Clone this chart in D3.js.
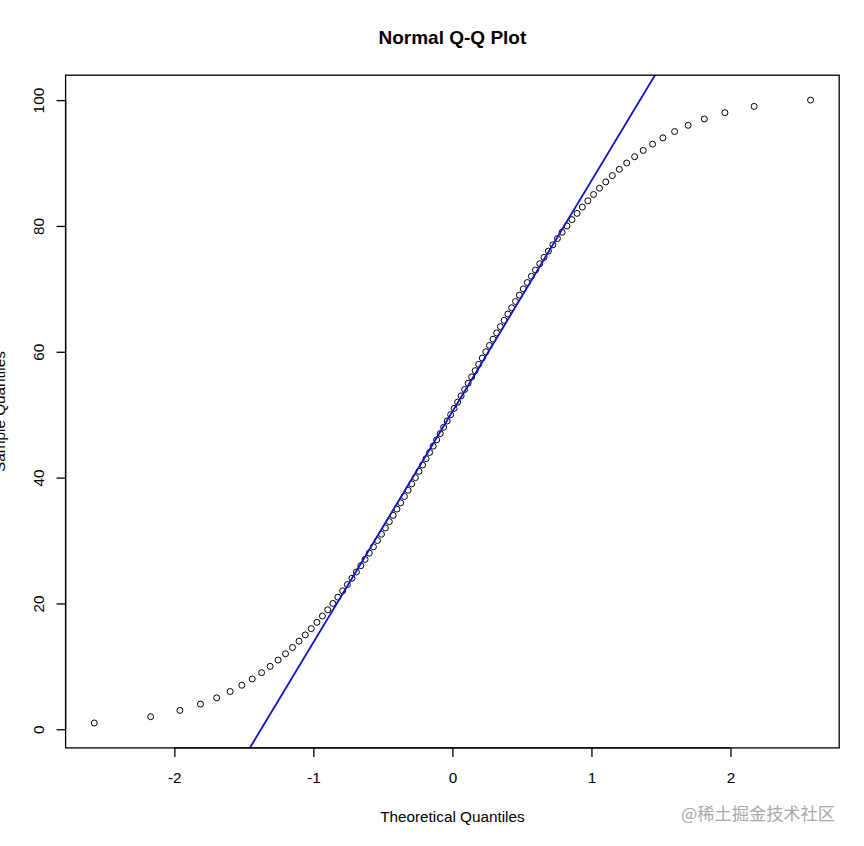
<!DOCTYPE html>
<html>
<head>
<meta charset="utf-8">
<script src="https://cdn.jsdelivr.net/npm/d3@7"></script>
<style>
  html, body { margin: 0; padding: 0; background: #fff; }
  svg { display: block; font-family: "Liberation Sans", Arial, sans-serif; }
</style>
</head>
<body>
<svg id="chart" width="864" height="846"></svg>
<script>
// Theoretical quantiles (lower half; upper half is symmetric)
const theoreticalLower = [
  -2.5758, -2.1701, -1.9600, -1.8119, -1.6954, -1.5982, -1.5141, -1.4395, -1.3722, -1.3106,
  -1.2536, -1.2004, -1.1503, -1.1031, -1.0581, -1.0152, -0.9741, -0.9346, -0.8965, -0.8596,
  -0.8239, -0.7892, -0.7554, -0.7225, -0.6903, -0.6588, -0.6280, -0.5978, -0.5681, -0.5388,
  -0.5101, -0.4817, -0.4538, -0.4261, -0.3989, -0.3719, -0.3451, -0.3186, -0.2924, -0.2663,
  -0.2404, -0.2147, -0.1891, -0.1637, -0.1383, -0.1130, -0.0878, -0.0627, -0.0376, -0.0125
];
const theoreticalUpper = [
   0.0125,  0.0376,  0.0627,  0.0878,  0.1130,  0.1383,  0.1637,  0.1891,  0.2147,  0.2404,
   0.2663,  0.2924,  0.3186,  0.3451,  0.3719,  0.3989,  0.4261,  0.4538,  0.4817,  0.5101,
   0.5388,  0.5681,  0.5978,  0.6280,  0.6588,  0.6903,  0.7225,  0.7554,  0.7892,  0.8239,
   0.8596,  0.8965,  0.9346,  0.9741,  1.0152,  1.0581,  1.1031,  1.1503,  1.2004,  1.2536,
   1.3106,  1.3722,  1.4395,  1.5141,  1.5982,  1.6954,  1.8119,  1.9600,  2.1701,  2.5758
];
const sampleValues = [
   1,  2,  3,  4,  5,  6,  7,  8,  9, 10, 11, 12, 13, 14, 15, 16, 17, 18, 19, 20,
  21, 22, 23, 24, 25, 26, 27, 28, 29, 30, 31, 32, 33, 34, 35, 36, 37, 38, 39, 40,
  41, 42, 43, 44, 45, 46, 47, 48, 49, 50, 51, 52, 53, 54, 55, 56, 57, 58, 59, 60,
  61, 62, 63, 64, 65, 66, 67, 68, 69, 70, 71, 72, 73, 74, 75, 76, 77, 78, 79, 80,
  81, 82, 83, 84, 85, 86, 87, 88, 89, 90, 91, 92, 93, 94, 95, 96, 97, 98, 99, 100
];
// Reference line (qqline): intercept and slope
const lineIntercept = [50.5];
const lineSlope = [36.694];
const xTicks = [-2, -1, 0, 1, 2];
const yTicks = [0, 20, 40, 60, 80, 100];
const titleText = "Normal Q-Q Plot";
const xLabel = "Theoretical Quantiles";
const yLabel = "Sample Quantiles";
const watermark = "@稀土掘金技术社区";

const theoretical = theoreticalLower.concat(theoreticalUpper);
const points = sampleValues.map((v, i) => ({ x: theoretical[i], y: v }));

const svg = d3.select("#chart");
const L = 65.6, R = 839.2, T = 75.2, B = 747.9;

const xMin = d3.min(theoretical), xMax = d3.max(theoretical);
const xPad = (xMax - xMin) * 0.04;
const yMin = d3.min(sampleValues), yMax = d3.max(sampleValues);
const yPad = (yMax - yMin) * 0.04;

const x = d3.scaleLinear().domain([xMin - xPad, xMax + xPad]).range([L, R]);
const y = d3.scaleLinear().domain([yMin - yPad, yMax + yPad]).range([B, T]);

svg.append("defs").append("clipPath").attr("id", "plotclip")
  .append("rect").attr("x", L).attr("y", T).attr("width", R - L).attr("height", B - T);

// points
svg.append("g").selectAll("circle").data(points).join("circle")
  .attr("cx", d => x(d.x)).attr("cy", d => y(d.y)).attr("r", 3)
  .attr("fill", "none").attr("stroke", "#000").attr("stroke-width", 1);

// reference line
const dom = x.domain();
svg.append("line")
  .attr("clip-path", "url(#plotclip)")
  .attr("x1", x(dom[0])).attr("y1", y(lineIntercept[0] + lineSlope[0] * dom[0]))
  .attr("x2", x(dom[1])).attr("y2", y(lineIntercept[0] + lineSlope[0] * dom[1]))
  .attr("stroke", "#1010cc").attr("stroke-width", 1.8);

// box
svg.append("rect").attr("x", L).attr("y", T).attr("width", R - L).attr("height", B - T)
  .attr("fill", "none").attr("stroke", "#000").attr("stroke-width", 1.3);

// x axis
const xAxis = d3.axisBottom(x).tickValues(xTicks).tickSize(9).tickPadding(15)
  .tickFormat(d => d3.format("d")(d).replace("−", "-"));
const gx = svg.append("g").attr("transform", `translate(0,${B})`).call(xAxis);
gx.select(".domain").attr("d", `M${x(xTicks[0])},0H${x(xTicks[xTicks.length - 1])}`)
  .attr("stroke", "#000").attr("stroke-width", 1.3);
gx.selectAll(".tick line").attr("stroke", "#000").attr("stroke-width", 1.3);
gx.selectAll(".tick text").attr("font-size", "15.3px").attr("fill", "#000")
  .attr("font-family", "Liberation Sans, Arial, sans-serif");

// y axis
const yAxis = d3.axisLeft(y).tickValues(yTicks).tickSize(9).tickFormat(d3.format("d"));
const gy = svg.append("g").attr("transform", `translate(${L},0)`).call(yAxis);
gy.select(".domain").attr("d", `M0,${y(yTicks[0])}V${y(yTicks[yTicks.length - 1])}`)
  .attr("stroke", "#000").attr("stroke-width", 1.3);
gy.selectAll(".tick line").attr("stroke", "#000").attr("stroke-width", 1.3);
gy.selectAll(".tick text")
  .attr("font-size", "15.3px").attr("fill", "#000")
  .attr("font-family", "Liberation Sans, Arial, sans-serif")
  .attr("x", null).attr("dy", null)
  .attr("text-anchor", "middle")
  .attr("transform", "translate(-22,0) rotate(-90)");

// title
svg.append("text").attr("x", (L + R) / 2).attr("y", 44)
  .attr("text-anchor", "middle").attr("font-size", "19px").attr("font-weight", "bold")
  .attr("fill", "#000").text(titleText);

// x label
svg.append("text").attr("x", (L + R) / 2).attr("y", 821.5)
  .attr("text-anchor", "middle").attr("font-size", "15.3px").attr("fill", "#000").text(xLabel);

// y label (partly cut at the left edge, as in the reference)
svg.append("text")
  .attr("transform", `translate(5,${(T + B) / 2}) rotate(-90)`)
  .attr("text-anchor", "middle").attr("font-size", "15.3px").attr("fill", "#000").text(yLabel);

// watermark
svg.append("text").attr("x", 681).attr("y", 820)
  .attr("font-family", "Noto Sans CJK SC, sans-serif")
  .attr("font-size", "17px").attr("fill", "#a8a8a8")
  .attr("textLength", 154).attr("lengthAdjust", "spacingAndGlyphs")
  .text(watermark);
</script>
</body>
</html>
